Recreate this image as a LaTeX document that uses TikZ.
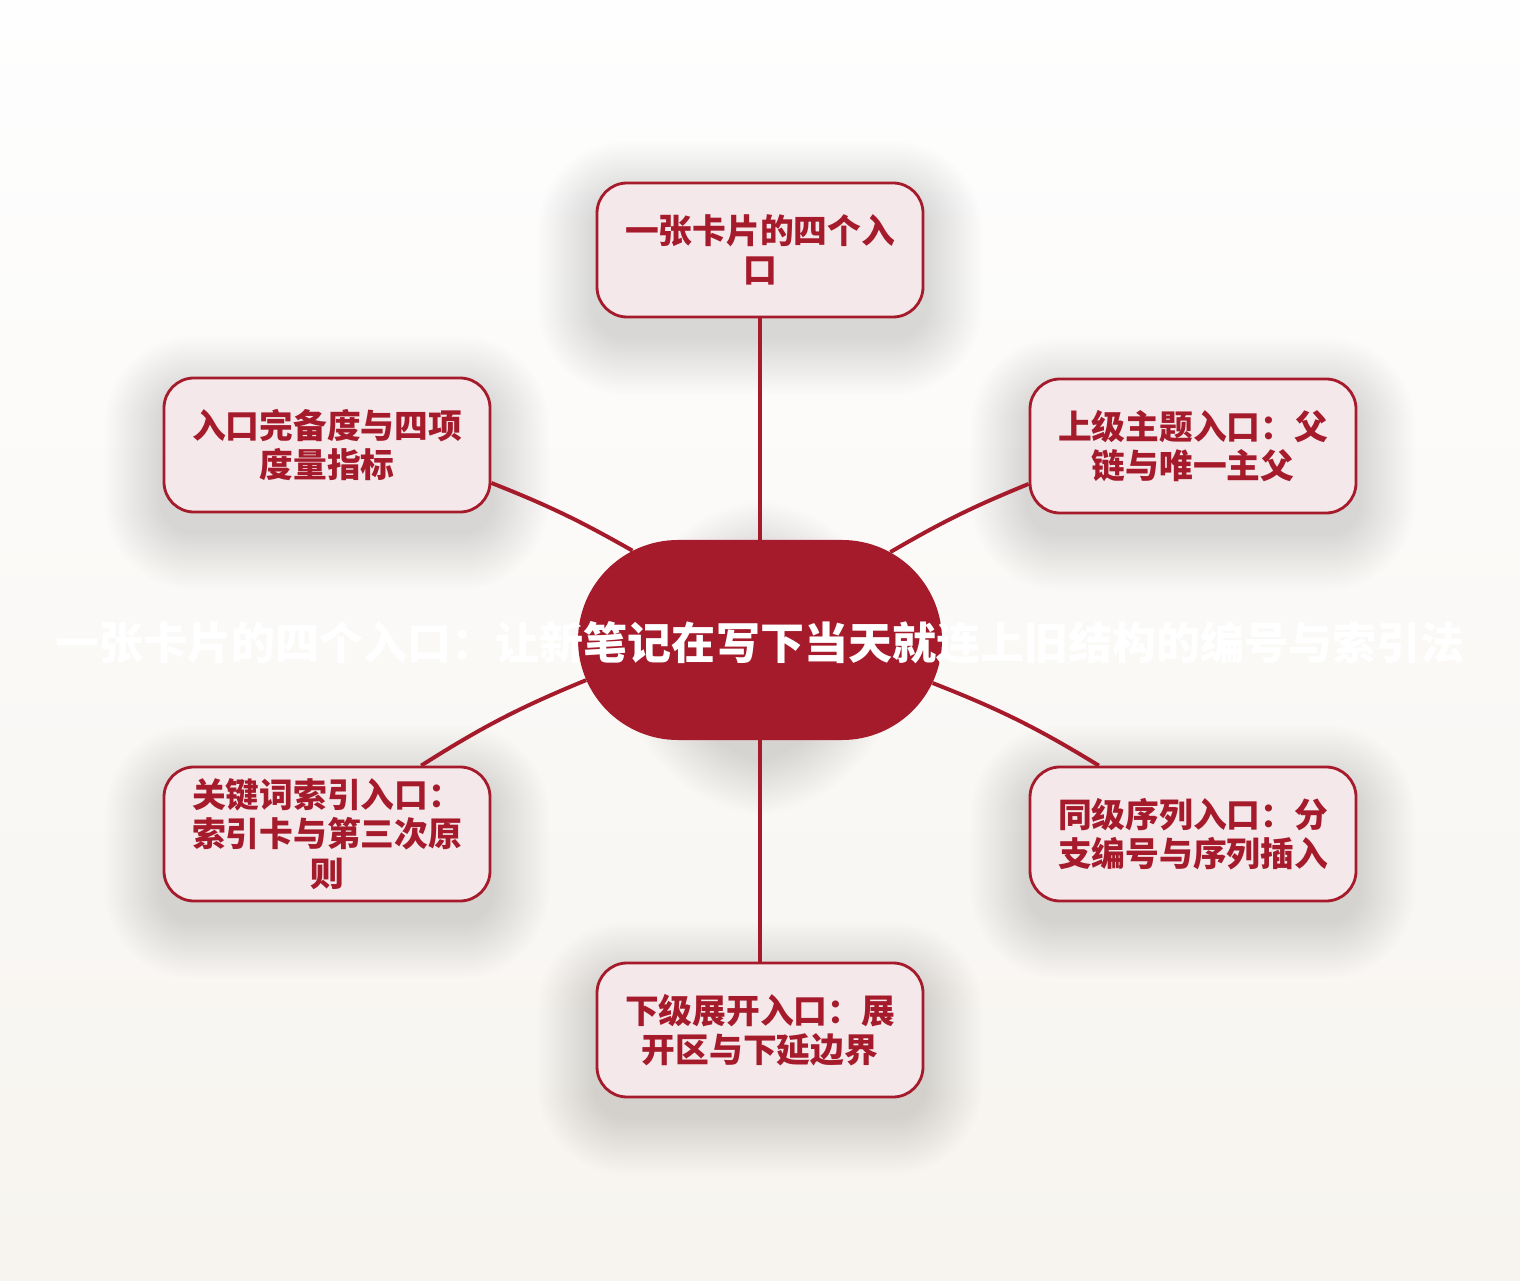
\documentclass[tikz,border=0pt]{standalone}
\usepackage{fontspec}
\setmainfont{Noto Sans CJK SC}
\usepackage{xcolor}
\usepackage{tikz}
\usetikzlibrary{positioning, shapes.misc, calc}
\pgfdeclarelayer{background}
\pgfdeclarelayer{foreground}
\pgfsetlayers{background,main,foreground}
\definecolor{hubred}{HTML}{A51B2B}
\definecolor{cardfill}{HTML}{F5E8EB}
\definecolor{pagetop}{HTML}{FEFEFE}
\definecolor{pagebottom}{HTML}{F7F4EF}

\begin{document}
\begin{tikzpicture}[
  card/.style={draw=hubred, line width=2pt, fill=cardfill, rounded corners=0.75cm,
    minimum width=8.15cm, minimum height=3.35cm, text width=7cm, align=center,
    text=hubred, font=\fontsize{24}{28}\selectfont\bfseries},
  hub/.style={fill=hubred, rounded rectangle, minimum width=9.1cm, minimum height=5cm, inner sep=0pt},
  hubtext/.style={text=white, font=\fontsize{31.3}{36}\selectfont\bfseries},
  link/.style={draw=hubred, line width=2.8pt},
  haze/.style={fill=black, opacity=0.007}
]
  \node[hub] (center) at (19, 16) {};
  \node[card] (entries) at (19, 25.75) {一张卡片的四个入\\口};
  \node[card] (measure) at (8.175, 20.875) {入口完备度与四项\\度量指标};
  \node[card] (parent) at (29.825, 20.85) {上级主题入口：父\\链与唯一主父};
  \node[card] (keyword) at (8.175, 11.15) {关键词索引入口：\\索引卡与第三次原\\则};
  \node[card] (sibling) at (29.825, 11.15) {同级序列入口：分\\支编号与序列插入};
  \node[card] (child) at (19, 6.25) {下级展开入口：展\\开区与下延边界};

  \begin{pgfonlayer}{background}
    \shade[top color=pagetop, bottom color=pagebottom] (0, 0) rectangle (38, 32);
    \foreach \k in {1,...,18} {
      \foreach \n in {entries, measure, parent, keyword, sibling, child}
        \fill[haze, rounded corners=0.75cm+\k*0.08cm]
          ($(\n.south west)+(-\k*0.08, -0.45-\k*0.08)$) rectangle ($(\n.north east)+(\k*0.08, -0.45+\k*0.08)$);
      \fill[haze, rounded corners=2.5cm+\k*0.08cm]
        ($(center.south west)+(-\k*0.08, -0.45-\k*0.08)$) rectangle ($(center.north east)+(\k*0.08, -0.45+\k*0.08)$);
    }
  \end{pgfonlayer}

  \draw[link] (center) -- (entries);
  \draw[link] (center.145) to[bend right=4] (measure.-13.5);
  \draw[link] (center.34) to[bend left=4] (parent.193.5);
  \draw[link] (center.193.8) to[bend right=5] (keyword.36);
  \draw[link] (center.-14.4) to[bend left=5] (sibling.144);
  \draw[link] (center) -- (child);

  \node[hubtext] (title) at (19, 15.93) {一张卡片的四个入口：让新笔记在写下当天就连上旧结构的编号与索引法};
\end{tikzpicture}
\end{document}
